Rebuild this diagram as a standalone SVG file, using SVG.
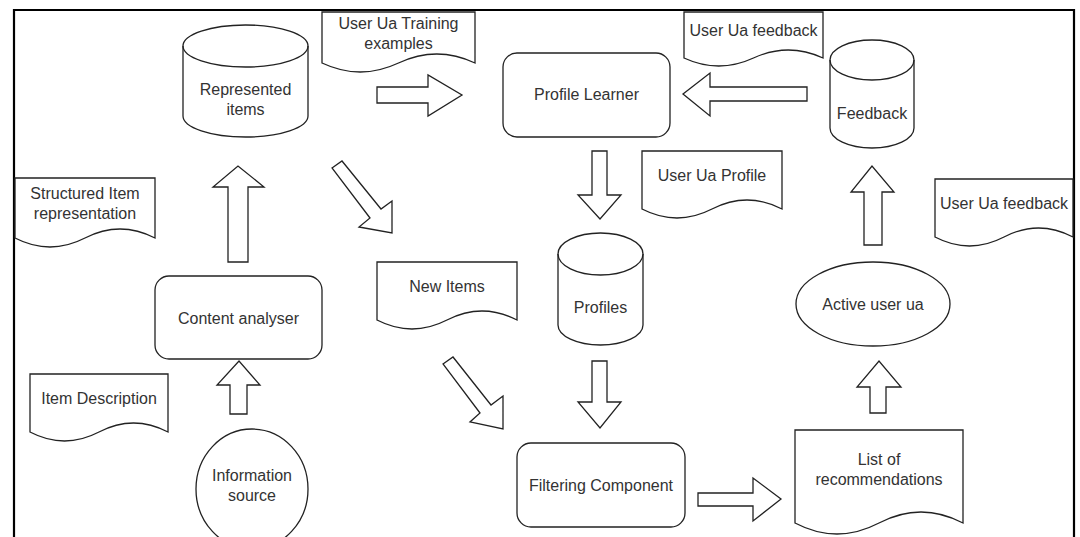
<svg xmlns="http://www.w3.org/2000/svg" width="1080" height="537" viewBox="0 0 1080 537">
<style>
.s{fill:#fff;stroke:#222;stroke-width:1.3}
.o{fill:none;stroke:#222;stroke-width:1.3}
.t{font-family:"Liberation Sans",Arial,sans-serif;font-size:16px;fill:#333;text-anchor:middle}
.a{fill:#fff;stroke:#222;stroke-width:1.3;stroke-linejoin:miter}
</style>
<rect x="0" y="0" width="1080" height="537" fill="#fff"/>
<path d="M14,545 V10 H1074 V545" fill="none" stroke="#000" stroke-width="2.2"/>

<g id="connectors">
<polygon class="a" points="377,87 428,87 428,75 462,95 428,116 428,103 377,103"/>
<polygon class="a" points="807,87 710,87 710,73 683,94 710,116 710,101 807,101"/>
<polygon class="a" points="592,151 607,151 607,195 621,195 600,219 578,195 592,195"/>
<polygon class="a" points="592,361 607,361 607,402 621,402 600,428 578,402 592,402"/>
<polygon class="a" points="228,262 248,262 248,187 264,187 238,166 213,187 228,187"/>
<polygon class="a" points="230,414 247,414 247,385 260,385 239,361 217,385 230,385"/>
<polygon class="a" points="698,493 753,493 753,478 781,499 753,521 753,506 698,506"/>
<polygon class="a" points="870,413 886,413 886,387 901,387 879,361 857,387 870,387"/>
<polygon class="a" points="864,245 882,245 882,192 894,192 872,166 851,192 864,192"/>
<polygon class="a" points="332,168 342,161 381,209 392,201 392,233 359,227 370,218"/>
<polygon class="a" points="443,364 453,357 491,405 503,396 503,429 470,422 480,413"/>
</g>

<g id="represented-items">
<path class="s" d="M183,46 A62.5,21 0 0 1 308,46 V116 A62.5,21 0 0 1 183,116 Z"/>
<path class="o" d="M183,46 A62.5,21 0 0 0 308,46"/>
<text class="t" x="245.5" y="95">Represented</text>
<text class="t" x="245.5" y="115">items</text>
</g>

<g id="training-examples">
<path class="s" d="M322,12 H475 V63 Q436.75,45 398.5,63 T322,63 Z"/>
<text class="t" x="398.5" y="29">User Ua Training</text>
<text class="t" x="398.5" y="49">examples</text>
</g>

<g id="profile-learner">
<rect class="s" x="503" y="53" width="167" height="84" rx="14"/>
<text class="t" x="586.5" y="100">Profile Learner</text>
</g>

<g id="feedback-doc-top">
<path class="s" d="M684,12 H823 V58 Q788.25,42 753.5,58 T684,58 Z"/>
<text class="t" x="753.5" y="36">User Ua feedback</text>
</g>

<g id="feedback">
<path class="s" d="M830,60 A42,20 0 0 1 914,60 V128 A42,20 0 0 1 830,128 Z"/>
<path class="o" d="M830,60 A42,20 0 0 0 914,60"/>
<text class="t" x="872" y="119">Feedback</text>
</g>

<g id="profile-doc">
<path class="s" d="M642,151 H782 V209 Q747,191 712,209 T642,209 Z"/>
<text class="t" x="712" y="181">User Ua Profile</text>
</g>

<g id="structured-item">
<path class="s" d="M15,178 H155 V238 Q120,220 85,238 T15,238 Z"/>
<text class="t" x="85" y="199">Structured Item</text>
<text class="t" x="85" y="219">representation</text>
</g>

<g id="feedback-doc-right">
<path class="s" d="M935,179 H1073 V237 Q1038.5,219 1004,237 T935,237 Z"/>
<text class="t" x="1004" y="209">User Ua feedback</text>
</g>

<g id="new-items">
<path class="s" d="M377,262 H517 V320 Q482,302 447,320 T377,320 Z"/>
<text class="t" x="447" y="292">New Items</text>
</g>

<g id="profiles">
<path class="s" d="M558,254 A42.5,21 0 0 1 643,254 V325 A42.5,20 0 0 1 558,325 Z"/>
<path class="o" d="M558,254 A42.5,21 0 0 0 643,254"/>
<text class="t" x="600.5" y="313">Profiles</text>
</g>

<g id="active-user">
<ellipse class="s" cx="873" cy="304" rx="77" ry="42"/>
<text class="t" x="873" y="310">Active user ua</text>
</g>

<g id="content-analyser">
<rect class="s" x="155" y="276" width="167" height="83" rx="14"/>
<text class="t" x="238.5" y="324">Content analyser</text>
</g>

<g id="item-description">
<path class="s" d="M30,374 H168 V432 Q133.5,414 99,432 T30,432 Z"/>
<text class="t" x="99" y="404">Item Description</text>
</g>

<g id="information-source">
<ellipse class="s" cx="252" cy="489" rx="56" ry="60"/>
<text class="t" x="252" y="481">Information</text>
<text class="t" x="252" y="501">source</text>
</g>

<g id="filtering-component">
<rect class="s" x="517" y="443" width="168" height="84" rx="14"/>
<text class="t" x="601" y="491">Filtering Component</text>
</g>

<g id="recommendations">
<path class="s" d="M795,430 H963 V523 Q921,501 879,523 T795,523 Z"/>
<text class="t" x="879" y="465">List of</text>
<text class="t" x="879" y="485">recommendations</text>
</g>
</svg>
